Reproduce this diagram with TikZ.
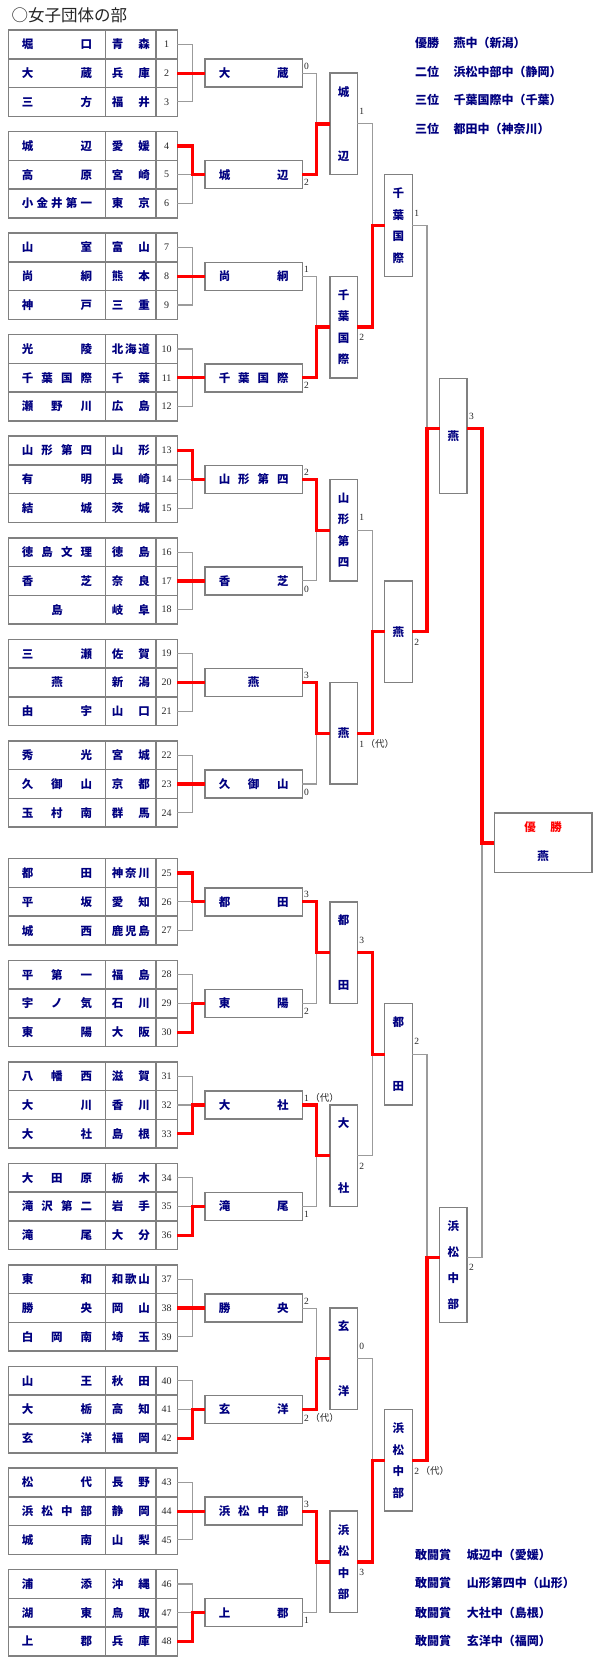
\documentclass[tikz,border=0pt]{standalone}
\usepackage{fontspec}
\setmainfont{Liberation Serif}
\newfontfamily\jp{Noto Sans CJK JP}
\usetikzlibrary{calc}
\definecolor{navyblue}{RGB}{0,0,128}
\definecolor{framegray}{RGB}{128,128,128}
\definecolor{linegray}{RGB}{155,155,155}
\newcommand\jstrut{\vrule width0pt height .88em depth .12em\relax}
\newcommand\HS[2]{\hbox to #1{\jstrut#2}}
\newcommand\vc[1]{\hbox{\jstrut#1}}
\newcommand\VS[2]{\vbox to #1{\offinterlineskip#2}}
\newcommand\dai{{\jp （代）}}
\tikzset{
  cell/.style={draw=framegray, line width=1.5pt, inner sep=0pt, outer sep=0pt, anchor=north west, minimum height=28.77pt, text=navyblue, font=\jp\bfseries\fontsize{11.5}{12}\selectfont},
  numcell/.style={cell, text=black!85, font=\fontsize{10}{11}\selectfont},
  rbox/.style={draw=framegray, line width=1.4pt, inner sep=0pt, outer sep=0pt, fill=white, text=navyblue, font=\jp\bfseries\fontsize{11.5}{12}\selectfont},
  r1box/.style={rbox, minimum width=97.3pt, minimum height=28pt},
  r2box/.style={rbox, minimum width=27.3pt, minimum height=101.55pt},
  r3box/.style={rbox, minimum width=27.8pt, minimum height=101.55pt},
  r4box/.style={rbox, minimum width=27.5pt, minimum height=115pt},
  finalbox/.style={rbox, minimum width=97.7pt, minimum height=59.7pt},
  boxtext/.style={inner sep=0pt, font=\jp\bfseries\fontsize{11.5}{12}\selectfont},
  gline/.style={draw=linegray, line width=1.1pt},
  rline/.style={draw=red, line width=3.2pt},
  score/.style={anchor=west, inner sep=0pt, text=black!85, font=\fontsize{9.5}{10}\selectfont},
  summary/.style={anchor=west, inner sep=0pt, text=navyblue, font=\jp\bfseries\fontsize{12}{13}\selectfont},
  titletext/.style={anchor=west, inner sep=0pt, text=black!85, font=\jp\fontsize{16.5}{18}\selectfont}
}
\begin{document}
\begin{tikzpicture}[x=1pt,y=-1pt]
\useasboundingbox (0,0) rectangle (600,1680);
\fill[white] (0,0) rectangle (600,1680);

\node[titletext] (title) at (11.5,15) {○女子団体の部};

% team tables
\foreach \i/\nm/\pf in {
1/{堀\hfill 口}/{青\hfill 森},
2/{大\hfill 蔵}/{兵\hfill 庫},
3/{三\hfill 方}/{福\hfill 井},
4/{城\hfill 辺}/{愛\hfill 媛},
5/{高\hfill 原}/{宮\hfill 崎},
6/{小\hfill 金\hfill 井\hfill 第\hfill 一}/{東\hfill 京},
7/{山\hfill 室}/{富\hfill 山},
8/{尚\hfill 絅}/{熊\hfill 本},
9/{神\hfill 戸}/{三\hfill 重},
10/{光\hfill 陵}/{北\hfill 海\hfill 道},
11/{千\hfill 葉\hfill 国\hfill 際}/{千\hfill 葉},
12/{瀬\hfill 野\hfill 川}/{広\hfill 島},
13/{山\hfill 形\hfill 第\hfill 四}/{山\hfill 形},
14/{有\hfill 明}/{長\hfill 崎},
15/{結\hfill 城}/{茨\hfill 城},
16/{徳\hfill 島\hfill 文\hfill 理}/{徳\hfill 島},
17/{香\hfill 芝}/{奈\hfill 良},
18/{\hfill 島\hfill}/{岐\hfill 阜},
19/{三\hfill 瀬}/{佐\hfill 賀},
20/{\hfill 燕\hfill}/{新\hfill 潟},
21/{由\hfill 宇}/{山\hfill 口},
22/{秀\hfill 光}/{宮\hfill 城},
23/{久\hfill 御\hfill 山}/{京\hfill 都},
24/{玉\hfill 村\hfill 南}/{群\hfill 馬},
25/{都\hfill 田}/{神\hfill 奈\hfill 川},
26/{平\hfill 坂}/{愛\hfill 知},
27/{城\hfill 西}/{鹿\hfill 児\hfill 島},
28/{平\hfill 第\hfill 一}/{福\hfill 島},
29/{宇\hfill ノ\hfill 気}/{石\hfill 川},
30/{東\hfill 陽}/{大\hfill 阪},
31/{八\hfill 幡\hfill 西}/{滋\hfill 賀},
32/{大\hfill 川}/{香\hfill 川},
33/{大\hfill 社}/{島\hfill 根},
34/{大\hfill 田\hfill 原}/{栃\hfill 木},
35/{滝\hfill 沢\hfill 第\hfill 二}/{岩\hfill 手},
36/{滝\hfill 尾}/{大\hfill 分},
37/{東\hfill 和}/{和\hfill 歌\hfill 山},
38/{勝\hfill 央}/{岡\hfill 山},
39/{白\hfill 岡\hfill 南}/{埼\hfill 玉},
40/{山\hfill 王}/{秋\hfill 田},
41/{大\hfill 栃}/{高\hfill 知},
42/{玄\hfill 洋}/{福\hfill 岡},
43/{松\hfill 代}/{長\hfill 野},
44/{浜\hfill 松\hfill 中\hfill 部}/{静\hfill 岡},
45/{城\hfill 南}/{山\hfill 梨},
46/{浦\hfill 添}/{沖\hfill 縄},
47/{湖\hfill 東}/{鳥\hfill 取},
48/{上\hfill 郡}/{兵\hfill 庫}} {
  \pgfmathtruncatemacro\k{(\i-1)/3}
  \pgfmathtruncatemacro\r{\i-1-3*\k}
  \pgfmathsetmacro\yt{30+101.55*\k+(\k>7)*16.3+28.77*\r}
  \node[cell, minimum width=97.4pt] (n\i) at (8.3,\yt) {\HS{70.3pt}{\nm}};
  \node[cell, minimum width=50.3pt] (p\i) at (105.7,\yt) {\HS{38.2pt}{\pf}};
  \node[numcell, minimum width=21.3pt] (m\i) at (156,\yt) {\i};
}

% round 1 boxes
\foreach \k/\nm/\sc in {
0/{大\hfill 蔵}/0, 1/{城\hfill 辺}/2, 2/{尚\hfill 絅}/1, 3/{千\hfill 葉\hfill 国\hfill 際}/2,
4/{山\hfill 形\hfill 第\hfill 四}/2, 5/{香\hfill 芝}/0, 6/{\hfill 燕\hfill}/3, 7/{久\hfill 御\hfill 山}/0,
8/{都\hfill 田}/3, 9/{東\hfill 陽}/2, 10/{大\hfill 社}/{1\,\dai}, 11/{滝\hfill 尾}/1,
12/{勝\hfill 央}/2, 13/{玄\hfill 洋}/{2\,\dai}, 14/{浜\hfill 松\hfill 中\hfill 部}/3, 15/{上\hfill 郡}/1} {
  \pgfmathsetmacro\yc{73.15+101.55*\k+(\k>7)*16.3}
  \node[r1box] (a\k) at (253.65,\yc) {\HS{69.8pt}{\nm}};
  \pgfmathsetmacro\sy{ifthenelse(mod(\k,2)==0,7,-8)}
  \node[score] (sa\k) at ([xshift=1.5pt,yshift=\sy pt]a\k.east) {\sc};
}

% round 2 boxes
\foreach \j/\tx/\sc in {
0/{\vc{城}\vfill\vc{辺}}/1,
1/{\vc{千}\vfill\vc{葉}\vfill\vc{国}\vfill\vc{際}}/2,
2/{\vc{山}\vfill\vc{形}\vfill\vc{第}\vfill\vc{四}}/1,
3/{\vfill\vc{燕}\vfill}/{1\,\dai},
4/{\vc{都}\vfill\vc{田}}/3,
5/{\vc{大}\vfill\vc{社}}/2,
6/{\vc{玄}\vfill\vc{洋}}/0,
7/{\vc{浜}\vfill\vc{松}\vfill\vc{中}\vfill\vc{部}}/3} {
  \pgfmathsetmacro\yc{73.15+101.55*(2*\j+0.5)+(\j>3)*16.3}
  \node[r2box] (b\j) at (343.65,\yc) {\VS{74.6pt}{\tx}};
  \pgfmathsetmacro\sy{ifthenelse(mod(\j,2)==0,12.5,-10.5)}
  \node[score] (sb\j) at ([xshift=1.8pt,yshift=\sy pt]b\j.east) {\sc};
}

% round 3 boxes
\foreach \m/\tx/\sc in {
0/{\vc{千}\vfill\vc{葉}\vfill\vc{国}\vfill\vc{際}}/1,
1/{\vfill\vc{燕}\vfill}/2,
2/{\vc{都}\vfill\vc{田}}/2,
3/{\vc{浜}\vfill\vc{松}\vfill\vc{中}\vfill\vc{部}}/{2\,\dai}} {
  \pgfmathsetmacro\yc{73.15+101.55*(4*\m+1.5)+(\m>1)*16.3}
  \node[r3box] (c\m) at (398.4,\yc) {\VS{74.6pt}{\tx}};
  \pgfmathsetmacro\sy{ifthenelse(mod(\m,2)==0,12.5,-10.5)}
  \node[score] (sc\m) at ([xshift=1.8pt,yshift=\sy pt]c\m.east) {\sc};
}

% round 4 boxes
\node[r4box] (d0) at (453.25,436.075) {\VS{74.6pt}{\vfill\vc{燕}\vfill}};
\node[r4box] (d1) at (453.25,1264.775) {\VS{88.1pt}{\vc{浜}\vfill\vc{松}\vfill\vc{中}\vfill\vc{部}}};
\node[score] (sd0) at ([xshift=2pt,yshift=20pt]d0.east) {3};
\node[score] (sd1) at ([xshift=2pt,yshift=-3pt]d1.east) {2};

% final
\node[finalbox] (f) at (543.15,842.925) {};
\node[boxtext, text=red] (fw) at (543.15,827) {\HS{37.5pt}{優\hfill 勝}};
\node[boxtext, text=navyblue] (fn) at (543.15,856.6) {\jstrut 燕};

% connectors: teams to round 1
\foreach \k in {0,...,15} {
  \foreach \r in {1,2,3} {
    \pgfmathtruncatemacro\i{3*\k+\r}
    \draw[gline] (m\i.east) -- ++(15.4,0) |- (a\k.west);
  }
}
\foreach \k/\w in {0/2,1/4,2/8,3/11,4/13,5/17,6/20,7/23,8/25,9/30,10/33,11/36,12/38,13/42,14/44,15/48}
  \draw[rline] (m\w.east) -- ++(15.4,0) |- (a\k.west);

% round 1 to round 2
\foreach \k in {0,...,15} {
  \pgfmathtruncatemacro\j{\k/2}
  \draw[gline] (a\k.east) -- ++(14.4,0) |- (b\j.west);
}
\foreach \k/\j in {1/0,3/1,4/2,6/3,8/4,10/5,13/6,14/7}
  \draw[rline] (a\k.east) -- ++(14.4,0) |- (b\j.west);

% round 2 to round 3
\foreach \j in {0,...,7} {
  \pgfmathtruncatemacro\m{\j/2}
  \draw[gline] (b\j.east) -- ++(15.4,0) |- (c\m.west);
}
\foreach \j/\m in {1/0,3/1,4/2,7/3}
  \draw[rline] (b\j.east) -- ++(15.4,0) |- (c\m.west);

% round 3 to round 4
\foreach \m in {0,...,3} {
  \pgfmathtruncatemacro\n{\m/2}
  \draw[gline] (c\m.east) -- ++(14.7,0) |- ([yshift=7.5pt]d\n.west);
}
\foreach \m/\n in {1/0,3/1}
  \draw[rline] (c\m.east) -- ++(14.7,0) |- ([yshift=7.5pt]d\n.west);

% round 4 to final
\draw[gline] ([yshift=7.5pt]d1.east) -- ++(15,0) |- (f.west);
\draw[rline] ([yshift=7.5pt]d0.east) -- ++(15,0) |- (f.west);

% results summary
\node[summary] (t1l) at (415,43.3) {優勝};
\node[summary] (t1r) at (453.3,43.3) {燕中（新潟）};
\node[summary] (t2l) at (415,71.7) {二位};
\node[summary] (t2r) at (453.3,71.7) {浜松中部中（静岡）};
\node[summary] (t3l) at (415,100) {三位};
\node[summary] (t3r) at (453.3,100) {千葉国際中（千葉）};
\node[summary] (t4l) at (415,129.3) {三位};
\node[summary] (t4r) at (453.3,129.3) {都田中（神奈川）};

\node[summary] (u1l) at (415,1555) {敢闘賞};
\node[summary] (u1r) at (466.7,1555) {城辺中（愛媛）};
\node[summary] (u2l) at (415,1583.3) {敢闘賞};
\node[summary] (u2r) at (466.7,1583.3) {山形第四中（山形）};
\node[summary] (u3l) at (415,1612.7) {敢闘賞};
\node[summary] (u3r) at (466.7,1612.7) {大社中（島根）};
\node[summary] (u4l) at (415,1641) {敢闘賞};
\node[summary] (u4r) at (466.7,1641) {玄洋中（福岡）};
\end{tikzpicture}
\end{document}
